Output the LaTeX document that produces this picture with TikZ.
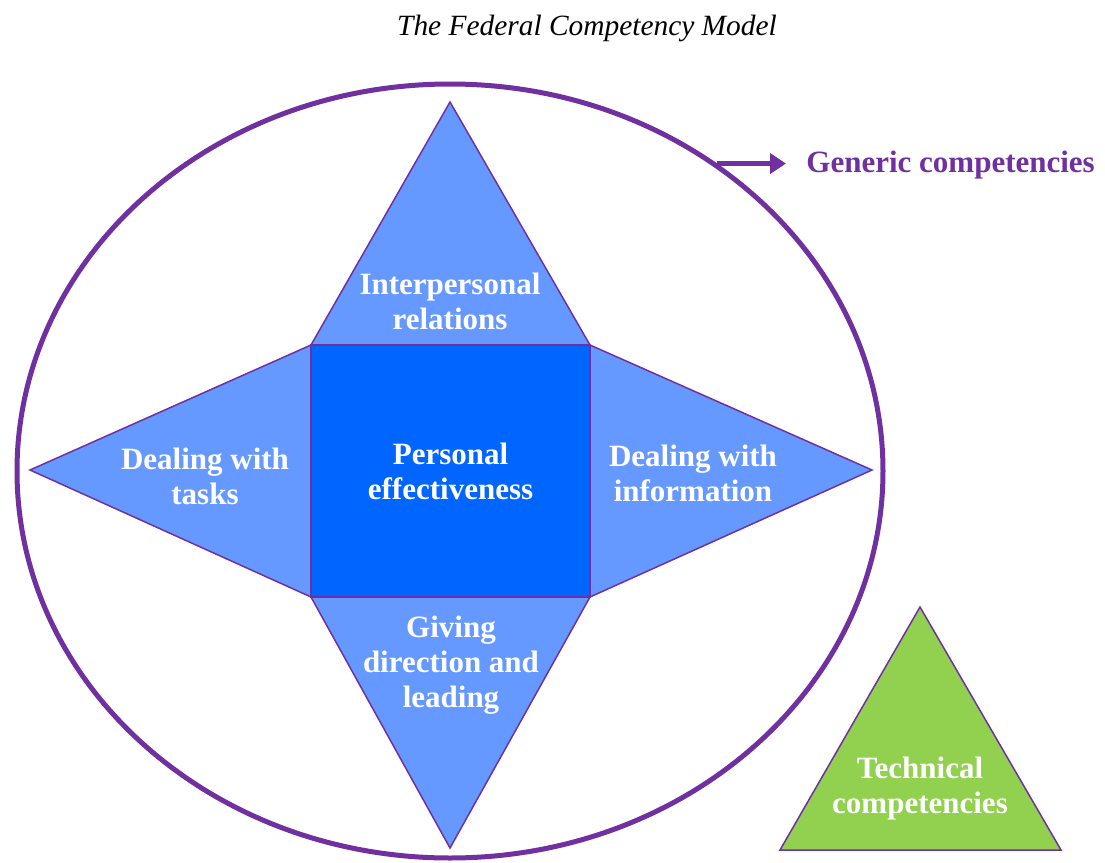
\documentclass[tikz,border=0pt]{standalone}
\usepackage{fontspec}
\setmainfont{Liberation Serif}
\usetikzlibrary{shapes.geometric}
\usetikzlibrary{arrows.meta}
\usetikzlibrary{backgrounds}
\definecolor{ringpurple}{HTML}{7030A0}
\definecolor{petalblue}{HTML}{6699FF}
\definecolor{coreblue}{HTML}{0066FF}
\definecolor{techgreen}{HTML}{92D050}
\tikzstyle{model}=[x=0.5pt, y=-0.5pt, font=\fontsize{15.5}{17.5}\selectfont\bfseries]
\tikzstyle{ring}=[ellipse, draw=ringpurple, line width=2.5pt, inner sep=0pt, minimum width=433pt, minimum height=387pt]
\tikzstyle{petal}=[draw=ringpurple, line width=0.75pt, fill=petalblue]
\tikzstyle{core}=[rectangle, draw=ringpurple, line width=0.75pt, fill=coreblue, text=white, align=center, minimum width=139.5pt, minimum height=126pt, inner sep=0pt, outer sep=0pt]
\tikzstyle{lbl}=[text=white, align=center, inner sep=0pt]
\tikzstyle{tech}=[draw=ringpurple, line width=0.75pt, fill=techgreen]
\tikzstyle{generic}=[text=ringpurple, anchor=west, inner sep=0pt]
\tikzstyle{pointer}=[-{Triangle[length=8pt, width=10pt]}, draw=ringpurple, line width=2.5pt, shorten >= 10pt]

\begin{document}
\begin{tikzpicture}[model]
	\useasboundingbox (0,0) rectangle (1105,863);
	\node[font=\fontsize{14.7}{18}\mdseries\itshape\selectfont] (title) at (587,28) {The Federal Competency Model};
	%%
	\node[ring] (ring) at (450,471) {};
	\node[core] (pe) at (450.5,471) {Personal\\effectiveness};
	%%
	\coordinate (topTip) at (450,102);
	\coordinate (botTip) at (450,848);
	\coordinate (leftTip) at (30,470);
	\coordinate (rightTip) at (872,470);
	\begin{scope}[on background layer]
		\draw[petal] (pe.north west) -- (topTip) -- (pe.north east) -- cycle;
		\draw[petal] (pe.south west) -- (botTip) -- (pe.south east) -- cycle;
		\draw[petal] (pe.north west) -- (leftTip) -- (pe.south west) -- cycle;
		\draw[petal] (pe.north east) -- (rightTip) -- (pe.south east) -- cycle;
	\end{scope}
	%%
	\node[lbl] (inter) at (450,301) {Interpersonal\\relations};
	\node[lbl] (tasks) at (205,476) {Dealing with\\tasks};
	\node[lbl] (info) at (693,473.5) {Dealing with\\information};
	\node[lbl] (lead) at (451,665.5) {Giving\\direction and\\leading};
	%%%%%%
	\node[generic] (gen) at (806,165) {Generic competencies};
	\draw[pointer] (ring.49) -- (ring.49 -| gen.west);
	%%%%%%
	\coordinate (techTop) at (920,607);
	\coordinate (techLeft) at (780,850);
	\coordinate (techRight) at (1061,850);
	\draw[tech] (techLeft) -- (techTop) -- (techRight) -- cycle;
	\node[lbl] (techText) at (920,788.5) {Technical\\competencies};
\end{tikzpicture}
\end{document}
